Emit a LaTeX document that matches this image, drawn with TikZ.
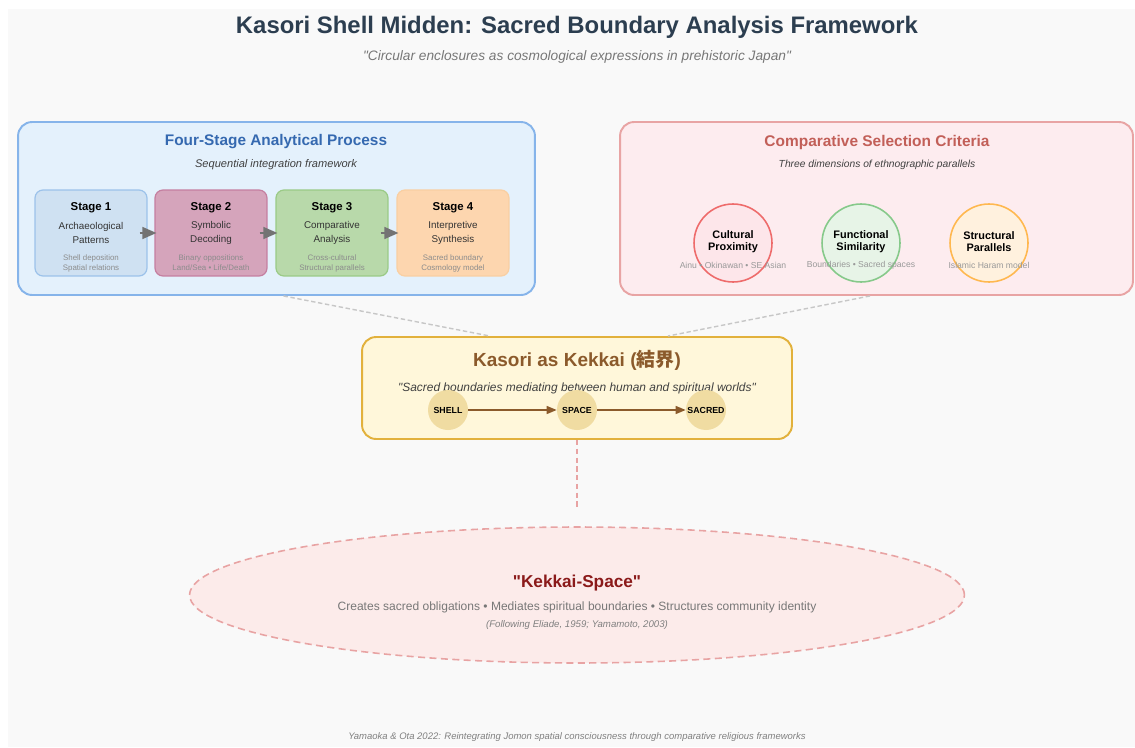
\documentclass[tikz,border=0pt]{standalone}
\usepackage{fontspec}
\setmainfont{Liberation Sans}[Ligatures=TeXOff]
\newfontfamily\jpfont{Noto Sans CJK JP}
\usepackage{xcolor}
\usetikzlibrary{arrows.meta}
\usetikzlibrary{shapes.geometric}

\definecolor{pagebg}{HTML}{F9F9F9}
\definecolor{titlecol}{HTML}{2C3E50}
\definecolor{subgray}{HTML}{777777}
\definecolor{leftfill}{HTML}{E4F1FC}
\definecolor{leftdraw}{HTML}{86B4EA}
\definecolor{lefttitle}{HTML}{3569B0}
\definecolor{rightfill}{HTML}{FDECEF}
\definecolor{rightdraw}{HTML}{E8A4A4}
\definecolor{righttitle}{HTML}{C25F58}
\definecolor{sonefill}{HTML}{CFE1F2}
\definecolor{sonedraw}{HTML}{9CC2EA}
\definecolor{stwofill}{HTML}{D5A4BB}
\definecolor{stwodraw}{HTML}{C57FA0}
\definecolor{sthreefill}{HTML}{B8D9AA}
\definecolor{sthreedraw}{HTML}{9ACA86}
\definecolor{sfourfill}{HTML}{FDD6AF}
\definecolor{sfourdraw}{HTML}{F9CFA2}
\definecolor{conedraw}{HTML}{EE6B6B}
\definecolor{conefill}{HTML}{FDE6EA}
\definecolor{ctwodraw}{HTML}{86C98A}
\definecolor{ctwofill}{HTML}{E7F4E7}
\definecolor{cthreedraw}{HTML}{FFB84F}
\definecolor{cthreefill}{HTML}{FFF1DE}
\definecolor{kekfill}{HTML}{FFF7DA}
\definecolor{kekdraw}{HTML}{E2B13C}
\definecolor{kektitle}{HTML}{8B5A2B}
\definecolor{kekcirc}{HTML}{F0DCA2}
\definecolor{spacefill}{HTML}{FCEBEA}
\definecolor{spacedraw}{HTML}{E8A3A3}
\definecolor{spacetitle}{HTML}{8B1A1A}

\tikzset{
  panel/.style={rounded corners=0.28cm, line width=1.1pt, inner sep=0pt},
  stagebox/.style={rounded corners=0.16cm, line width=0.7pt, minimum width=2.24cm, minimum height=1.72cm, inner sep=0pt},
  stagearrow/.style={draw=black!55, line width=0.8pt, -{Triangle[length=0.28cm, width=0.24cm]}},
  critcirc/.style={circle, line width=0.9pt, minimum size=1.56cm, inner sep=0pt},
  flowcirc/.style={circle, fill=kekcirc, minimum size=0.8cm, inner sep=0pt, font=\bfseries\fontsize{5}{6}\selectfont},
  flowarrow/.style={draw=kektitle, line width=0.8pt, -{Triangle[length=0.2cm, width=0.16cm]}},
  stagetitle/.style={font=\bfseries\fontsize{6.5}{7}\selectfont},
  stagebody/.style={align=center, text=black!80, font=\fontsize{5.6}{7.9}\selectfont},
  stagesub/.style={align=center, text=black!45, font=\fontsize{4.5}{5.7}\selectfont},
  crittext/.style={align=center, font=\bfseries\fontsize{6.2}{6.8}\selectfont},
  critsub/.style={text=black!40, font=\fontsize{4.9}{5}\selectfont},
}

\begin{document}
\begin{tikzpicture}[x=0.02cm, y=-0.02cm]
\useasboundingbox (0,0) rectangle (1135,747);
\fill[white] (0,0) rectangle (1135,747);
\fill[pagebg] (8,9) rectangle (1135,747);

\node[text=titlecol, font=\bfseries\fontsize{13.6}{15}\selectfont] (title) at (577,27) {Kasori Shell Midden: Sacred Boundary Analysis Framework};
\node[text=subgray, font=\itshape\fontsize{7.8}{9}\selectfont] (subtitle) at (577,57) {"Circular enclosures as cosmological expressions in prehistoric Japan"};

% left panel
\node[panel, fill=leftfill, draw=leftdraw, minimum width=10.34cm, minimum height=3.46cm] (leftpanel) at (276.5,208.5) {};
\node[text=lefttitle, font=\bfseries\fontsize{8.75}{10}\selectfont] (lefthead) at (276,142) {Four-Stage Analytical Process};
\node[text=black!75, font=\itshape\fontsize{6.3}{7}\selectfont] (leftsub) at (276,165) {Sequential integration framework};

\node[stagebox, fill=sonefill, draw=sonedraw] (sone) at (91,233) {};
\node[stagebox, fill=stwofill, draw=stwodraw] (stwo) at (211,233) {};
\node[stagebox, fill=sthreefill, draw=sthreedraw] (sthree) at (332,233) {};
\node[stagebox, fill=sfourfill, draw=sfourdraw] (sfour) at (453,233) {};

\node[stagetitle] (sonet) at (91,208) {Stage 1};
\node[stagebody] (soneb) at (91,233) {Archaeological\\Patterns};
\node[stagesub] (sones) at (91,263) {Shell deposition\\Spatial relations};
\node[stagetitle] (stwot) at (211,208) {Stage 2};
\node[stagebody] (stwob) at (211,233) {Symbolic\\Decoding};
\node[stagesub] (stwos) at (211,263) {Binary oppositions\\Land/Sea • Life/Death};
\node[stagetitle] (sthreet) at (332,208) {Stage 3};
\node[stagebody] (sthreeb) at (332,233) {Comparative\\Analysis};
\node[stagesub] (sthrees) at (332,263) {Cross-cultural\\Structural parallels};
\node[stagetitle] (sfourt) at (453,208) {Stage 4};
\node[stagebody] (sfourb) at (453,233) {Interpretive\\Synthesis};
\node[stagesub] (sfours) at (453,263) {Sacred boundary\\Cosmology model};

\draw[stagearrow] ([xshift=-0.16cm]sone.east) -- ([xshift=0.04cm]stwo.west);
\draw[stagearrow] ([xshift=-0.16cm]stwo.east) -- ([xshift=0.04cm]sthree.west);
\draw[stagearrow] ([xshift=-0.16cm]sthree.east) -- ([xshift=0.04cm]sfour.west);

% right panel
\node[panel, fill=rightfill, draw=rightdraw, minimum width=10.26cm, minimum height=3.46cm] (rightpanel) at (876.5,208.5) {};
\node[text=righttitle, font=\bfseries\fontsize{8.8}{10}\selectfont] (righthead) at (877,142) {Comparative Selection Criteria};
\node[text=black!75, font=\itshape\fontsize{5.85}{7}\selectfont] (rightsub) at (877,165) {Three dimensions of ethnographic parallels};

\node[critcirc, fill=conefill, draw=conedraw] (cone) at (733,243) {};
\node[critcirc, fill=ctwofill, draw=ctwodraw] (ctwo) at (861,243) {};
\node[critcirc, fill=cthreefill, draw=cthreedraw] (cthree) at (989,243) {};
\node[crittext] (conet) at (733,242) {Cultural\\Proximity};
\node[crittext] (ctwot) at (861,242) {Functional\\Similarity};
\node[crittext] (cthreet) at (989,242) {Structural\\Parallels};
\node[critsub] (cones) at (733,265) {Ainu • Okinawan • SE Asian};
\node[critsub] (ctwos) at (861,265) {Boundaries • Sacred spaces};
\node[critsub] (cthrees) at (989,265) {Islamic Haram model};

% kekkai box
\node[panel, fill=kekfill, draw=kekdraw, minimum width=8.6cm, minimum height=2.04cm] (kekkai) at (577,388) {};
\node[text=kektitle, font=\bfseries\fontsize{10.8}{12}\selectfont] (kekhead) at (577,360) {Kasori as Kekkai ({\jpfont 結界})};
\node[text=black!75, font=\itshape\fontsize{6.8}{8}\selectfont] (kekquote) at (577,388) {"Sacred boundaries mediating between human and spiritual worlds"};
\node[flowcirc] (shell) at (448,410) {SHELL};
\node[flowcirc] (space) at (577,410) {SPACE};
\node[flowcirc] (sacred) at (706,410) {SACRED};
\draw[flowarrow] (shell) -- (space);
\draw[flowarrow] (space) -- (sacred);

\draw[black!22, line width=0.8pt, dash pattern=on 2.5pt off 1.5pt] ([xshift=0.14cm]leftpanel.south) -- ([xshift=-1.74cm]kekkai.north);
\draw[black!22, line width=0.8pt, dash pattern=on 2.5pt off 1.5pt] ([xshift=-0.13cm]rightpanel.south) -- ([xshift=1.82cm]kekkai.north);

% kekkai-space
\node[ellipse, fill=spacefill, draw=spacedraw, line width=0.9pt, dash pattern=on 4pt off 2.5pt, minimum width=15.5cm, minimum height=2.72cm, inner sep=0pt] (kspace) at (577,595) {};
\coordinate (linkend) at (577,510);
\draw[spacedraw, line width=0.9pt, dash pattern=on 3pt off 2pt] (kekkai.south) -- (linkend);
\node[text=spacetitle, font=\bfseries\fontsize{9.8}{11}\selectfont] (kspacet) at (577,583) {"Kekkai-Space"};
\node[text=subgray, font=\fontsize{6.85}{8}\selectfont] (kspaceb) at (577,607) {Creates sacred obligations • Mediates spiritual boundaries • Structures community identity};
\node[text=black!50, font=\itshape\fontsize{5.5}{6}\selectfont] (kspacec) at (577,625) {(Following Eliade, 1959; Yamamoto, 2003)};

\node[text=black!50, font=\itshape\fontsize{5.4}{6}\selectfont] (footer) at (577,737) {Yamaoka \& Ota 2022: Reintegrating Jomon spatial consciousness through comparative religious frameworks};
\end{tikzpicture}
\end{document}
